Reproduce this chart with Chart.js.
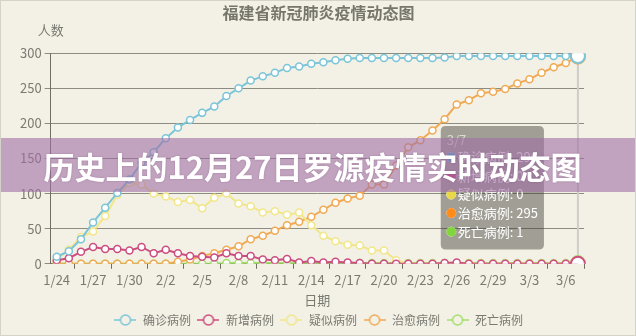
<!DOCTYPE html>
<html>
<head>
<meta charset="utf-8">
<script src="https://cdn.jsdelivr.net/npm/chart.js@4/dist/chart.umd.min.js"></script>
<style>
html, body { margin: 0; padding: 0; background: #fff; }
#wrap { position: relative; width: 636px; height: 336px; background: #f3f1e6; }
#frame { position: absolute; left: 0; top: 0; right: 0; bottom: 0; border: 1px solid #d4d3ca; pointer-events: none; }
canvas { display: block; }
#banner {
    position: absolute; left: 0; right: 0; top: 138px; height: 54px;
    background: rgba(160, 110, 165, 0.6);
    color: #fff; font: bold 31px "Noto Sans CJK SC", sans-serif;
    display: flex; align-items: center; justify-content: center;
    padding-right: 11px;
    text-shadow: 0 0 2px rgba(90, 50, 90, 0.35);
}
</style>
</head>
<body>
<div id="wrap">
    <canvas id="chart" width="636" height="336"></canvas>
    <div id="banner">历史上的12月27日罗源疫情实时动态图</div>
    <div id="frame"></div>
</div>
<script>
var dates = ["1/24", "1/25", "1/26", "1/27", "1/28", "1/29", "1/30", "1/31",
    "2/1", "2/2", "2/3", "2/4", "2/5", "2/6", "2/7", "2/8", "2/9", "2/10",
    "2/11", "2/12", "2/13", "2/14", "2/15", "2/16", "2/17", "2/18", "2/19", "2/20",
    "2/21", "2/22", "2/23", "2/24", "2/25", "2/26", "2/27", "2/28", "2/29",
    "3/1", "3/2", "3/3", "3/4", "3/5", "3/6", "3/7"];

var confirmed = [10, 18, 35, 59, 80, 101, 120, 144, 159, 179, 194, 205, 215, 224, 239, 250, 261, 267,
    272, 279, 281, 285, 287, 290, 292, 293, 293, 293, 293, 293, 293, 293, 294, 296, 296, 296, 296,
    296, 296, 296, 296, 296, 296, 296];
var newCases = [5, 8, 17, 24, 21, 21, 19, 24, 15, 20, 15, 11, 10, 9, 15, 11, 11, 6,
    5, 7, 2, 4, 2, 3, 2, 1, 0, 0, 0, 0, 0, 0, 1, 2, 0, 0, 0,
    0, 0, 0, 0, 0, 0, 0];
var suspected = [6, 20, 38, 46, 68, 98, 115, 113, 100, 96, 88, 91, 79, 94, 100, 86, 82, 73,
    75, 70, 73, 55, 40, 32, 27, 26, 19, 19, 5, 0, 0, 0, 0, 0, 0, 0, 0,
    0, 0, 0, 0, 0, 0, 0];
var cured = [0, 0, 0, 0, 0, 0, 0, 0, 0, 0, 3, 6, 11, 15, 20, 25, 35, 40,
    47, 55, 60, 67, 77, 87, 93, 97, 113, 113, 140, 166, 176, 190, 206, 227, 233, 243, 245,
    249, 257, 263, 272, 280, 286, 295];
var deaths = [0, 0, 0, 0, 0, 0, 0, 0, 0, 0, 0, 0, 0, 0, 1, 1, 1, 1,
    1, 1, 1, 1, 1, 1, 1, 1, 1, 1, 1, 1, 1, 1, 1, 1, 1, 1, 1,
    1, 1, 1, 1, 1, 1, 1];

var seriesNames = ["确诊病例", "新增病例", "疑似病例", "治愈病例", "死亡病例"];
var seriesData = [confirmed, newCases, suspected, cured, deaths];
var lineColors = ["#7cc5d8", "#cc4d7f", "#f1e68a", "#f0aa55", "#a5de6b"];
var tipColors = ["#45b0d8", "#d03a74", "#e8d84a", "#ff8c1a", "#80d63c"];

var bg = "#f3f1e6";
var textGray = "#7a7a72";

function legendIcon(color) {
    var c = document.createElement("canvas");
    c.width = 22;
    c.height = 12;
    var g = c.getContext("2d");
    g.strokeStyle = color;
    g.lineWidth = 1.5;
    g.beginPath();
    g.moveTo(0, 6);
    g.lineTo(22, 6);
    g.stroke();
    g.beginPath();
    g.arc(11, 6, 5, 0, Math.PI * 2);
    g.fillStyle = bg;
    g.fill();
    g.stroke();
    return c;
}
var icons = lineColors.map(legendIcon);

Chart.Tooltip.positioners.side = function (items) {
    if (!items.length) return false;
    var avg = Chart.Tooltip.positioners.average.call(this, items);
    return { x: avg.x - 34, y: avg.y + 7 };
};

// title and legend are centred on the whole canvas, not on the padded box
var extras = {
    id: "extras",
    afterUpdate: function (chart) {
        var shift = 18;
        chart.legend.left += shift;
        chart.legend.right += shift;
        chart.legend.adjustHitBoxes();
        chart.titleBlock.left += shift;
        chart.titleBlock.right += shift;
    },
    beforeDatasetsDraw: function (chart) {
        var act = chart.getActiveElements();
        if (!act.length) return;
        var ctx = chart.ctx;
        var x = act[0].element.x;
        var top = Math.min.apply(null, act.map(function (a) { return a.element.y; }));
        ctx.save();
        ctx.strokeStyle = "#cfcdc6";
        ctx.lineWidth = 2;
        ctx.beginPath();
        ctx.moveTo(x, top);
        ctx.lineTo(x, chart.chartArea.bottom);
        ctx.stroke();
        ctx.restore();
    },
    afterDraw: function (chart) {
        var ctx = chart.ctx;
        ctx.save();
        ctx.font = '13px "Noto Sans CJK SC"';
        ctx.fillStyle = textGray;
        ctx.textAlign = "center";
        ctx.textBaseline = "middle";
        ctx.fillText("人数", chart.chartArea.left, 30);
        ctx.restore();
    }
};

Chart.defaults.font.family = '"Noto Sans CJK SC", sans-serif';
Chart.defaults.color = textGray;

var chart = new Chart(document.getElementById("chart").getContext("2d"), {
    type: "line",
    data: {
        labels: dates,
        datasets: seriesNames.map(function (name, i) {
            return {
                label: name,
                data: seriesData[i],
                borderColor: lineColors[i],
                backgroundColor: lineColors[i],
                borderWidth: 2,
                pointRadius: 3.5,
                pointBorderWidth: 1.5,
                pointBackgroundColor: "#fff",
                pointHoverRadius: 7,
                pointHoverBorderWidth: 2,
                pointHoverBackgroundColor: "#fff",
                pointHoverBorderColor: lineColors[i],
                tension: 0
            };
        })
    },
    options: {
        responsive: false,
        animation: false,
        layout: {
            padding: { left: 17, right: 52, top: 0, bottom: 0 }
        },
        interaction: { mode: "index", intersect: false },
        plugins: {
            title: {
                display: true,
                text: "福建省新冠肺炎疫情动态图",
                color: "#77766a",
                font: { size: 16, weight: "bold" },
                padding: { top: 3, bottom: 31 }
            },
            legend: {
                position: "bottom",
                labels: {
                    usePointStyle: true,
                    pointStyleWidth: 23,
                    boxHeight: 12,
                    padding: 6,
                    color: textGray,
                    font: { size: 12 },
                    generateLabels: function (chart) {
                        var items = Chart.defaults.plugins.legend.labels.generateLabels(chart);
                        items.forEach(function (it, i) { it.pointStyle = icons[i]; });
                        return items;
                    }
                }
            },
            tooltip: {
                enabled: true,
                mode: "index",
                intersect: false,
                position: "side",
                xAlign: "right",
                yAlign: "center",
                backgroundColor: "rgba(60, 58, 50, 0.45)",
                titleColor: "#dedbd2",
                titleFont: { size: 13, weight: "normal" },
                bodyColor: "#fff",
                bodyFont: { size: 13 },
                padding: { left: 6, right: 6, top: 6, bottom: 10 },
                cornerRadius: 5,
                caretSize: 0,
                caretPadding: 0,
                usePointStyle: true,
                boxWidth: 9,
                boxHeight: 9,
                bodySpacing: 3,
                titleMarginBottom: 2,
                callbacks: {
                    labelColor: function (ctx) {
                        return { borderColor: tipColors[ctx.datasetIndex], backgroundColor: tipColors[ctx.datasetIndex] };
                    },
                    labelPointStyle: function () {
                        return { pointStyle: "circle", rotation: 0 };
                    }
                }
            }
        },
        scales: {
            x: {
                offset: true,
                title: {
                    display: true,
                    text: "日期",
                    color: textGray,
                    font: { size: 13 },
                    padding: { top: 2, bottom: 0 }
                },
                grid: {
                    offset: true,
                    drawOnChartArea: false,
                    tickLength: 5,
                    color: "#6f6e64"
                },
                border: { color: "#6f6e64" },
                ticks: {
                    autoSkip: false,
                    maxRotation: 0,
                    color: textGray,
                    font: { size: 13 },
                    callback: function (v, i) { return i % 3 === 0 ? dates[i] : null; }
                }
            },
            y: {
                min: 0,
                max: 300,
                grid: { color: "#8d8c82", tickLength: 6 },
                border: { color: "#6f6e64" },
                ticks: {
                    stepSize: 50,
                    color: textGray,
                    font: { size: 13 },
                    padding: 3
                }
            }
        }
    },
    plugins: [extras]
});

var last = dates.length - 1;
var act = seriesNames.map(function (n, i) { return { datasetIndex: i, index: last }; });
chart.setActiveElements(act);
chart.tooltip.setActiveElements(act, { x: 0, y: 0 });
chart.update();
</script>
</body>
</html>
